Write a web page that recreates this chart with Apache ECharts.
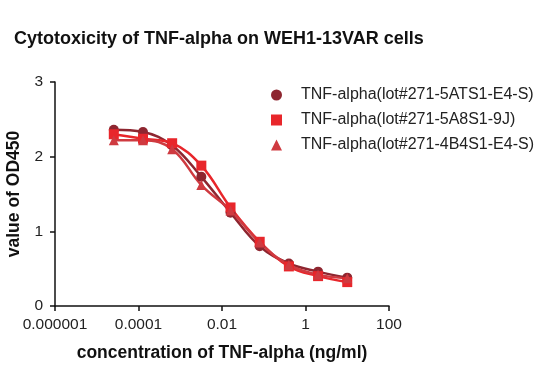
<!DOCTYPE html>
<html>
<head>
<meta charset="utf-8">
<script src="https://cdn.jsdelivr.net/npm/echarts@6/dist/echarts.min.js"></script>
<style>html,body{margin:0;padding:0;background:#fff}#c{width:550px;height:390px}</style>
</head>
<body>
<div id="c"></div>
<script>
const concentrations = [0.0000256, 0.000128, 0.00064, 0.0032, 0.016, 0.08, 0.4, 2, 10];
const seriesNames = ['TNF-alpha(lot#271-5ATS1-E4-S)', 'TNF-alpha(lot#271-5A8S1-9J)', 'TNF-alpha(lot#271-4B4S1-E4-S)'];
const lotA = [2.36, 2.33, 2.15, 1.73, 1.25, 0.80, 0.57, 0.46, 0.38];
const lotB = [2.30, 2.24, 2.18, 1.88, 1.32, 0.86, 0.53, 0.40, 0.32];
const lotC = [2.22, 2.22, 2.10, 1.62, 1.28, 0.85, 0.55, 0.42, 0.37];
const xTickLabels = ['0.000001', '0.0001', '0.01', '1', '100'];
const yTickLabels = ['0', '1', '2', '3'];

const colors = ['#8E2630', '#E8262B', '#CF3A40'];
const symbols = ['circle', 'rect', 'triangle'];
const values = [lotA, lotB, lotC];

const chart = echarts.init(document.getElementById('c'));
const font = 'Liberation Sans, Arial, sans-serif';
chart.setOption({
  animation: false,
  backgroundColor: '#fff',
  title: {
    text: 'Cytotoxicity of TNF-alpha on WEH1-13VAR cells',
    left: 9, top: 25,
    textStyle: {fontFamily: font, fontSize: 18, fontWeight: 'bold', color: '#111'}
  },
  legend: {
    orient: 'vertical', left: 266, top: 82, itemGap: 9,
    itemWidth: 11, itemHeight: 11,
    textStyle: {fontFamily: font, fontSize: 16, color: '#222', padding: [0,0,0,14]},
    data: seriesNames.map((n, i) => ({name: n, icon: symbols[i], itemStyle: {color: colors[i]}}))
  },
  grid: {left: 55, right: 161, top: 82, bottom: 84, containLabel: false, outerBoundsMode: 'none'},
  xAxis: {
    type: 'log', logBase: 10, min: 0.000001, max: 100, interval: 2,
    axisLine: {lineStyle: {color: '#111', width: 1.5}},
    axisTick: {show: true, length: 5, lineStyle: {color: '#111', width: 1.5}},
    minorTick: {show: false},
    splitLine: {show: false},
    axisLabel: {
      fontFamily: font, fontSize: 15.5, color: '#222', margin: 11,
      formatter: v => xTickLabels[Math.round((Math.log10(v) + 6) / 2)] || ''
    },
    name: 'concentration of TNF-alpha (ng/ml)', nameLocation: 'middle', nameGap: 38,
    nameTextStyle: {fontFamily: font, fontSize: 17.5, fontWeight: 'bold', color: '#111'}
  },
  yAxis: {
    type: 'value', min: 0, max: 3, interval: 1,
    axisLine: {show: true, lineStyle: {color: '#111', width: 1.5}},
    axisTick: {show: true, length: 5, lineStyle: {color: '#111', width: 1.5}},
    splitLine: {show: false},
    axisLabel: {fontFamily: font, fontSize: 15.5, color: '#222', margin: 12,
      formatter: v => yTickLabels[Math.round(v)]},
    name: 'value of OD450', nameLocation: 'middle', nameGap: 27,
    nameTextStyle: {fontFamily: font, fontSize: 17.5, fontWeight: 'bold', color: '#111'}
  },
  series: values.map((vals, i) => ({
    name: seriesNames[i], type: 'line', smooth: 0.4,
    symbol: symbols[i], symbolSize: 10,
    itemStyle: {color: colors[i]},
    lineStyle: {color: colors[i], width: 2.5},
    data: concentrations.map((c, j) => [c, vals[j]])
  }))
});
</script>
</body>
</html>
